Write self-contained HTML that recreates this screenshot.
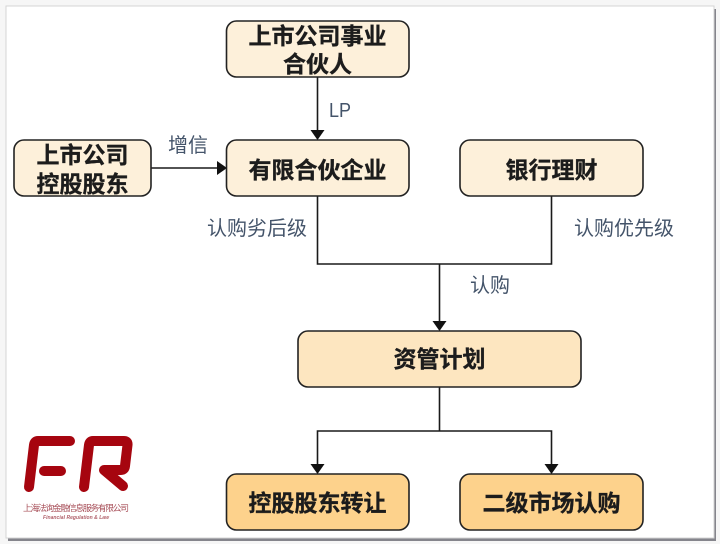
<!DOCTYPE html>
<html><head><meta charset="utf-8"><style>
html,body{margin:0;padding:0;background:#fff}
svg{display:block;filter:blur(.35px)}
.b{font:bold 23px "Liberation Sans","Noto Sans CJK SC",sans-serif;fill:#1c1c1c;text-anchor:middle;stroke:#1c1c1c;stroke-width:.35px}
.l{font:20px "Liberation Sans","Noto Sans CJK SC",sans-serif;fill:#44546a}
</style></head><body>
<svg width="720" height="544" viewBox="0 0 720 544" xmlns="http://www.w3.org/2000/svg">
<rect width="720" height="544" fill="#f6f6f6"/>
<rect x="8" y="9" width="708" height="532" fill="#85858c"/>
<rect x="6" y="6" width="708" height="532" fill="#fff" stroke="#d4d4d4" stroke-width="1"/>
<g fill="none" stroke="#1a1a1a" stroke-width="1.6">
<path d="M317.500 77V131"/><path d="M151 168H218"/>
<path d="M317.500 196V264H551.500V196"/><path d="M439.500 264V322"/>
<path d="M439.500 387V431"/><path d="M317.500 465V431H551.500V465"/>
</g>
<g fill="#111">
<path d="M310.500 130H324.500L317.500 140Z"/>
<path d="M217 161V175L227 168Z"/>
<path d="M432.500 321H446.500L439.500 331Z"/>
<path d="M310.500 464H324.500L317.500 474Z"/>
<path d="M544.500 464H558.500L551.500 474Z"/>
</g>
<g fill="#fdf0da" stroke="#222" stroke-width="1.6">
<rect x="226.500" y="21" width="182.500" height="56" rx="10"/>
<rect x="14" y="140" width="137" height="56" rx="10"/>
<rect x="226.500" y="140" width="182.500" height="56" rx="10"/>
<rect x="460" y="140" width="183" height="56" rx="10"/>
<rect x="298" y="331" width="283" height="56" rx="10" fill="#fde6c0"/>
<rect x="226.500" y="474" width="182.500" height="56" rx="10" fill="#fdd28c"/>
<rect x="460" y="474" width="183" height="56" rx="10" fill="#fdd28c"/>
</g>
<text class="b" x="317.500" y="44">上市公司事业</text>
<text class="b" x="317.500" y="72">合伙人</text>
<text class="b" x="82.500" y="163">上市公司</text>
<text class="b" x="82.500" y="192">控股股东</text>
<text class="b" x="317.500" y="178">有限合伙企业</text>
<text class="b" x="551.500" y="178">银行理财</text>
<text class="b" x="439.500" y="367">资管计划</text>
<text class="b" x="317.500" y="511">控股股东转让</text>
<text class="b" x="551.500" y="511">二级市场认购</text>
<text class="l" x="329" y="117" textLength="22" lengthAdjust="spacingAndGlyphs">LP</text>
<text class="l" x="168" y="152">增信</text>
<text class="l" x="207" y="235">认购劣后级</text>
<text class="l" x="574" y="235">认购优先级</text>
<text class="l" x="470" y="292">认购</text>
<g fill="none" stroke="#a6050f" stroke-linecap="round" stroke-linejoin="round">
<path d="M29 487L34 445Q34.500 441 38 441H70" stroke-width="10"/>
<path d="M44 471H61" stroke-width="10"/>
<path d="M84 487L89 445Q89.500 441 93 441H124Q128 441 127.500 445L125 466Q124.500 470 121 470H104L123 486" stroke-width="10"/>
</g>
<text x="23" y="511" font-family="'Liberation Sans','Noto Sans CJK SC',sans-serif" font-size="8.800" fill="#a8505a" textLength="106">上海法询金融信息服务有限公司</text>
<text x="43" y="519" font-family="'Liberation Sans',sans-serif" font-size="5" font-style="italic" font-weight="bold" fill="#b0606a" textLength="66">Financial Regulation &amp; Law</text>
</svg>
</body></html>
